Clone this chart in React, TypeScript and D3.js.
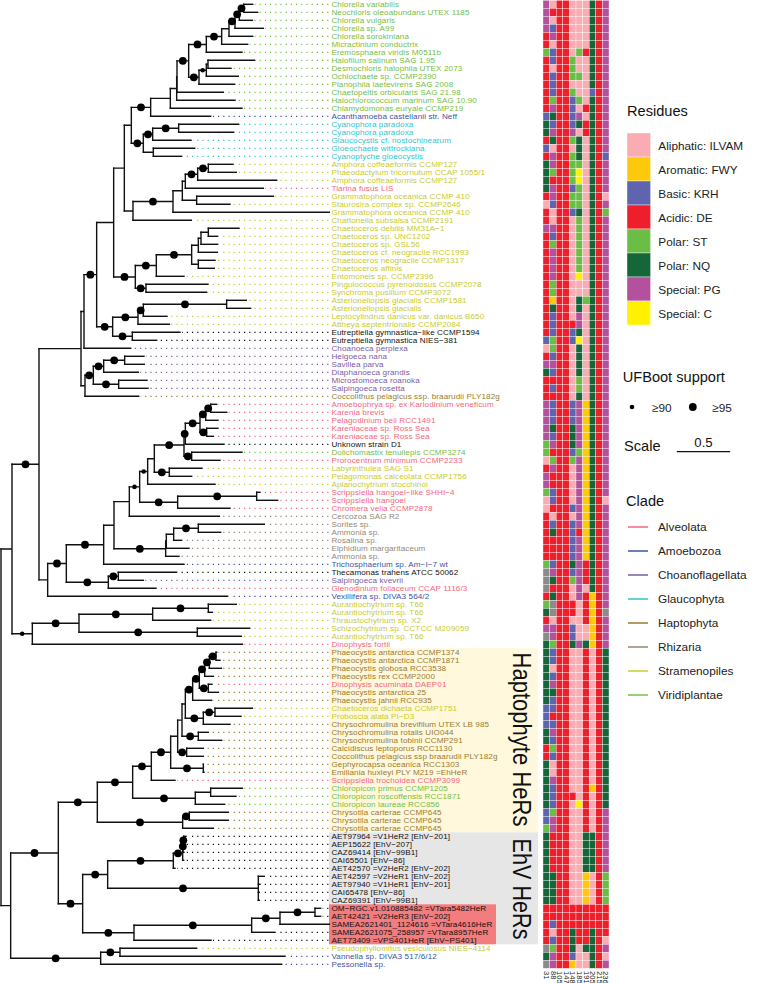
import React from "react";
import * as d3 from "d3";

const tipLabels = [
"Chlorella variabilis","Neochloris oleoabundans UTEX 1185","Chlorella vulgaris","Chlorella sp. A99","Chlorella sorokiniana","Micractinium conductrix","Eremosphaera viridis M0511b","Halofilum salinum SAG 1.95","Desmochloris halophila UTEX 2073","Ochlochaete sp. CCMP2390","Planophila laetevirens SAG 2008","Chaetopeltis orbicularis SAG 21.98","Halochlorococcum marinum SAG 10.90","Chlamydomonas euryale CCMP219","Acanthamoeba castellanii str. Neff","Cyanophora paradoxa","Cyanophora paradoxa","Glaucocystis cf. nostochinearum","Gloeochaete wittrockiana","Cyanoptyche gloeocystis",
"Amphora coffeaeformis CCMP127","Phaeodactylum tricornutum CCAP 1055/1","Amphora coffeaeformis CCMP127","Tiarina fusus LIS","Grammatophora oceanica CCMP 410","Staurosira complex sp. CCMP2646","Grammatophora oceanica CCMP 410","Chattonella subsalsa CCMP2191","Chaetoceros debilis MM31A−1","Chaetoceros sp. UNC1202","Chaetoceros sp. GSL56","Chaetoceros cf. neogracile RCC1993","Chaetoceros neogracile CCMP1317","Chaetoceros affinis","Entomoneis sp. CCMP2396","Pinguiococcus pyrenoidosus CCMP2078","Synchroma pusillum CCMP3072","Asterionellopsis glacialis CCMP1581","Asterionellopsis glacialis","Leptocylindrus danicus var. danicus B650",
"Attheya septentrionalis CCMP2084","Eutreptiella gymnastica−like CCMP1594","Eutreptiella gymnastica NIES−381","Choanoeca perplexa","Helgoeca nana","Savillea parva","Diaphanoeca grandis","Microstomoeca roanoka","Salpingoeca rosetta","Coccolithus pelagicus ssp. braarudii PLY182g","Amoebophrya sp. ex Karlodinium veneficum","Karenia brevis","Pelagodinium beii RCC1491","Kareniaceae sp. Ross Sea","Kareniaceae sp. Ross Sea","Unknown strain D1","Dolichomastix tenuilepis CCMP3274","Prorocentrum minimum CCMP2233","Labyrinthulea SAG S1","Pelagomonas calceolata CCMP1756",
"Aplanochytrium stocchinoi","Scrippsiella hangoei−like SHHI−4","Scrippsiella hangoei","Chromera velia CCMP2878","Cercozoa SAG R2","Sorites sp.","Ammonia sp.","Rosalina sp.","Elphidium margaritaceum","Ammonia sp.","Trichosphaerium sp. Am−I−7 wt","Thecamonas trahens ATCC 50062","Salpingoeca kvevrii","Glenodinium foliaceum CCAP 1116/3","Vexillifera sp. DIVA3 564/2","Aurantiochytrium sp. T66","Aurantiochytrium sp. T66","Thraustochytrium sp. X2","Schizochytrium sp. CCTCC M209059","Aurantiochytrium sp. T66",
"Dinophysis fortii","Phaeocystis antarctica CCMP1374","Phaeocystis antarctica CCMP1871","Phaeocystis globosa RCC3538","Phaeocystis rex CCMP2000","Dinophysis acuminata DAEP01","Phaeocystis antarctica 25","Phaeocystis jahnii RCC935","Chaetoceros dichaeta CCMP1751","Proboscia alata PI−D3","Chrysochromulina brevifilum UTEX LB 985","Chrysochromulina rotalis UIO044","Chrysochromulina tobinii CCMP291","Calcidiscus leptoporus RCC1130","Coccolithus pelagicus ssp braarudii PLY182g","Gephyrocapsa oceanica RCC1303","Emiliania huxleyi PLY M219 =EhHeR","Scrippsiella trochoidea CCMP3099","Chloropicon primus CCMP1205","Chloropicon roscoffensis RCC1871",
"Chloropicon laureae RCC856","Chrysotila carterae CCMP645","Chrysotila carterae CCMP645","Chrysotila carterae CCMP645","AET97964 =V1HeR2 [EhV−201]","AEP15622 [EhV−207]","CAZ69414 [EhV−99B1]","CAI65501 [EhV−86]","AET42570 =V2HeR2 [EhV−202]","AET42597 =V2HeR1 [EhV−202]","AET97940 =V1HeR1 [EhV−201]","CAI65478 [EhV−86]","CAZ69391 [EhV−99B1]","OM−RGC.v1.010885482 =VTara5482HeR","AET42421 =V2HeR3 [EhV−202]","SAMEA2621401_1124616 =VTara4616HeR","SAMEA2621075_258957 =VTara8957HeR","AET73409 =VPS401HeR [EhV−PS401]","Pseudophyllomitus vesiculosus NIES−4114","Vannella sp. DIVA3 517/6/12","Pessonella sp.",
];

// clade code of each tip, in tip order (V Viridiplantae, M Amoebozoa, Y Glaucophyta, T Stramenopiles, L Alveolata, K other, C Choanoflagellata, H Haptophyta, R Rhizaria)
const tipClades = "VVVVVVVVVVVVVVMYYYYYTTTLTTTTTTTTTTTTTTTTTKKCCCCCCHLLLLLKVLTTTLLLRRRRRRMKCLMTTTTTLHHHHLHHTTHHHHHHHLVVVHHHKKKKKKKKKKKKKKTMM";

// node = [depth, support (0 none, 1 >=90, 2 >=95), ...children]; a plain number is a tip's depth
type N = number | any[];
const chlorellaCore: N = [619,2,[665,2,[687,0,[705,2,[718,2,[731,2,758,773],757],790],758],743],726];
const chlorophyta: N = [511,0,[530,0,[531,0,[566,2,chlorellaCore,[597,2,[619,1,[624,0,764,693],715],704]],670],705],726];
const glauco: N = [430,2,[458,2,[536,2,716,701],573],[460,0,584,545]];
const diatomsA: N = [399,0,[519,2,[547,0,[556,0,[593,2,[625,2,699,709],830],790],[590,0,820,690]],988],574];
const diatomsB: N = [406,2,[469,2,[575,2,[595,0,[603,0,[625,0,717,653],653],652],[595,0,645,643]],552],[438,2,624,620]];
const greenUpper: N = [373,0,[394,0,[452,2,chlorophyta,632],glauco],diatomsA];
const euk: N = [290,2,[341,0,greenUpper,diatomsB],[338,2,[414,2,[430,2,[680,2,739,752],501],508],[397,2,540,470]]];
const choano: N = [255,0,[280,2,[311,2,[374,2,432,433],415],[356,2,441,444]],416];
const alveo: N = [388,0,[419,1,[443,1,[463,0,[552,2,[556,2,[600,2,[617,2,[632,2,650,680],654],[620,2,654,640]],672],[575,2,726,660]],[508,2,606,575]],645],[533,2,[770,2,780,833],690]],658];
const rhiz: N = [497,2,[499,0,[521,0,[595,2,793,662],545],567],537];
const lower: N = [143,0,[199,2,[311,2,[342,0,alveo,rhiz],552],[325,2,[355,2,530,430],468]],683];
const thraust: N = [97,1,[237,2,[458,2,[625,2,709,637],632],[592,2,749,724]],727];
const phaeo: N = [556,0,[578,2,[598,2,[614,2,[628,2,[648,2,650,660],664],640],[625,2,636,655]],635],[610,2,[645,2,757,723],690]];
const hapto: N = [398,2,[454,2,[512,2,[533,0,[546,0,phaeo,[595,2,625,665]],[560,2,610,610]],[610,2,610,612]],525],[586,2,[632,0,727,708],674]];
const ehvA: N = [323,2,[520,2,[548,2,[549,2,[551,2,558,552],552],551],525],[775,2,793,780,778,778]];
const ehvB: N = [402,2,[755,2,[840,2,[945,2,962,962],988],825],633];
const treeData: N = [3,0,
  [36,0,[117,2,[243,0,[252,0,euk,392],choano],lower],thraust],
  [32,0,[175,2,[292,2,hapto,[548,2,[568,2,685,685],640]],[248,2,ehvA,ehvB]],[302,2,[360,2,590,855],845]],
];

const siteLabels = ["31","88","105","147","148","185","191","205","215","236"];
// one string per tip; one letter per site
const residues = [
"GADDAAANDG","GDDDAAANDG","GADDAAANDG","GBDDAAANDG","DGDDAAANDG","DADDAAANDG","SBDDASDNDG","DBDDSAANDG","DADDSAANDG","DBDDSSANDG",
"DBDDAAANDG","DBDDSAABDG","DSDDBSANDG","DGDDBADNDG","BNDDBGANDG","NBDDBNDNDG","NGDDGADNDG","DNDDSNANDG","BADDANANDG","DGDDSNANDB",
"NGDDSSANDG","NSDDSCANDG","NDDDSCANDG","NGDDBSANDG","DGDDSSANDA","ABDDSSANDG","DADDBNANDS","DADDASANDG","GGDDASANDG","DBDDASANDG",
"DSDDASANDG","DGDDASANDG","DGDDASANDG","DGDDASANDG","DGDDACANDG","DSDDAAANDG","DSDDAAANDG","DWDDANSNDG","DNDDANANDG","DBDDAGANDG",
"DBDDDGANDG","DBDDBNANDG","BSDDBCANDG","ASDDANANDG","DBDDANANDG","GGDDANANDG","NBDDANANDG","DDDDASANDG","DBDDASANDG","DDDDANANDG",
"GBDDBGWNDG","GBDDBGWNDG","GBDDBGWNDG","GNDDNGWNDG","GBDDNGWNDG","SGDDNGWNDG","SDDDBSWNDG","ASDDSGWNDG","DGDDAGWNDG","GDDDAGWNDG",
"GDDDAGWNDG","SBDDAGWNDG","ABDDAGWNDA","ADDDBGWNDG","DADDAGWNDG","DBDDBGWNDG","DNDDBDWNDG","DDDDBGWNDG","DDDDBGWNDG","DDDDBGWNDG",
"SBDDNGDNDG","XGDDBGDNDG","XNDDSGDNDG","XDDDAGANDG","DNDDAGDWDG","SXDDDADWDG","NXDDDADWDX","DADDAADWDG","GGDDBAAWDG","XGDDBAAWDG",
"NSDDNGNWDG","NBDDAADADN","NBDDAADADN","NADDAADADN","NBDDAADADN","NGDDAADADN","NNDDAADADN","NBDDAADADN","BBDDAADADN","BDDDAADADN",
"BBDDAADADN","NGDDAADADN","NBDDAADADN","DSDDAADADN","DBDDAADADN","NADDAADADN","NADDAADADN","NGDDAADADN","NBDDAADWDN","NBDDDADADN",
"NBDDACDADN","BSDDAADADG","BGDDAADADG","SGDDAADADG","NDDDAANNDG","NDDDAANNDG","NDDDAANNDG","NDDDAANNDG","NDDDAANNDG","NNDDAAWADS",
"NNDDAAWADS","NNDDAAWADS","NNDDAAWADS","DDDDDDDDDD","DDDDDDDDDD","DBDDDDDDDD","DADDNDDNDD","DBDDNDDNDA","XSDDNANNDG","NGDDBAANDA","XGDDWAANDG",
];

const residueColor: Record<string,string> = { A:"#f9acb2", W:"#ffc90b", B:"#5e65ae", D:"#ee1f2b", S:"#6abd45", N:"#15673a", G:"#b4519e", C:"#fff200", X:"#8b8b8b" };
const residueKeys = ["A","W","B","D","S","N","G","C"];
const residueNames = ["Aliphatic: ILVAM","Aromatic: FWY","Basic: KRH","Acidic: DE","Polar: ST","Polar: NQ","Special: PG","Special: C"];

const cladeColor: Record<string,string> = { L:"#f4677c", M:"#3b54a4", C:"#7a5aa8", Y:"#30c5cd", H:"#9c7b2e", R:"#978775", T:"#c8cb2e", V:"#73c045", K:"#111111" };
const cladeKeys = ["L","M","C","Y","H","R","T","V"];
const cladeNames = ["Alveolata","Amoebozoa","Choanoflagellata","Glaucophyta","Haptophyta","Rhizaria","Stramenopiles","Viridiplantae"];

const supportRadius = [0, 2.3, 3.9];
const FONT = "'Liberation Sans', Arial, sans-serif";

const xScale = d3.scaleLinear().domain([0, 1140]).range([0, 380]);
const yScale = d3.scaleLinear().domain([0, tipLabels.length - 1]).range([4.3, 964.3]);
const cellH = yScale(1) - yScale(0);
const siteScale = d3.scaleBand<string>().domain(siteLabels).range([543, 609]);

const toObj = (n: N): any =>
  typeof n === "number" ? { depth: n, support: 0 } : { depth: n[0], support: n[1], kids: n.slice(2).map(toObj) };

const root = d3.hierarchy<any>(toObj(treeData), (d) => d.kids);
const leaves = root.leaves();
leaves.forEach((l: any, i) => { l.row = i; });
root.eachAfter((n: any) => {
  n.py = n.children ? d3.mean(n.children as any[], (c: any) => c.py) : yScale(n.row);
  n.px = xScale(n.data.depth);
});

export default function App() {
  const nodes: any[] = root.descendants();
  const lastDot = 328.4;
  const resLegendY = d3.scaleLinear().domain([0, 7]).range([133, 301]);
  const cladeLegendY = d3.scaleLinear().domain([0, 7]).range([527, 695]);
  return (
    <svg width={759} height={983} style={{ position: "absolute", left: 0, top: 0, display: "block", fontFamily: FONT }}>
      <rect width={759} height={983} fill="#fff" />
      <rect x={329} y={yScale(81) - 4} width={209} height={yScale(103) - yScale(81) + 8} fill="#fff8dc" />
      <rect x={329} y={yScale(104) - 4} width={209} height={yScale(117) - yScale(104) + 8} fill="#e6e6e7" />
      <rect x={329} y={yScale(113) - 4} width={167} height={yScale(117) - yScale(113) + 8} fill="#f27c7e" />

      {leaves.map((l: any, i) => (
        l.px < lastDot - 2 ? (
          <line key={"d" + i} x1={lastDot} x2={l.px + 2} y1={l.py} y2={l.py}
            stroke={cladeColor[tipClades[i]]} strokeWidth={1.2} strokeDasharray="1.2 4" />
        ) : null
      ))}

      <g stroke="#111" strokeWidth={1.4} fill="none" strokeLinecap="square">
        {nodes.map((n, i) => {
          const p = d3.path();
          if (n.parent) { p.moveTo(n.parent.px, n.py); p.lineTo(n.px, n.py); }
          if (n.children) {
            const ys = n.children.map((c: any) => c.py);
            p.moveTo(n.px, d3.min(ys) as number); p.lineTo(n.px, d3.max(ys) as number);
          }
          return <path key={i} d={p.toString()} />;
        })}
      </g>
      {nodes.filter((n) => n.data.support > 0 && n.parent).map((n, i) => (
        <circle key={i} cx={(n.parent.px + n.px) / 2} cy={n.py} r={supportRadius[n.data.support]} fill="#000" />
      ))}

      <g fontSize={8.1} letterSpacing={0.1}>
        {tipLabels.map((t, i) => (
          <text key={i} x={331.4} y={yScale(i) + 2.9} fill={cladeColor[tipClades[i]]}>{t}</text>
        ))}
      </g>

      <text transform={`translate(512.5,652.5) rotate(90)`} fontSize={25} fill="#111" textLength={174} lengthAdjust="spacingAndGlyphs">Haptophyte HeRs</text>
      <text transform={`translate(512.5,838.5) rotate(90)`} fontSize={25} fill="#111" textLength={101} lengthAdjust="spacingAndGlyphs">EhV HeRs</text>

      <g>
        {residues.flatMap((r, i) => r.split("").map((c, j) => (
          <rect key={i + "-" + j} x={siteScale(siteLabels[j])} y={yScale(i) - cellH / 2}
            width={siteScale.bandwidth()} height={cellH} fill={residueColor[c]} stroke="#fff" strokeWidth={0.35} />
        )))}
      </g>
      {siteLabels.map((s) => (
        <text key={s} transform={`translate(${(siteScale(s) as number) + 0.9},971) rotate(90)`} fontSize={7.6} fill="#222">{s}</text>
      ))}

      <text x={627} y={116} fontSize={14.6} fill="#111">Residues</text>
      {residueKeys.map((k, i) => (
        <g key={k}>
          <rect x={627} y={resLegendY(i)} width={23.6} height={24} fill={residueColor[k]} stroke="#fff" strokeWidth={0.4} />
          <text x={658.3} y={resLegendY(i) + 16.5} fontSize={11.8} fill="#222">{residueNames[i]}</text>
        </g>
      ))}

      <text x={622.7} y={382} fontSize={14.6} fill="#111">UFBoot support</text>
      <circle cx={632} cy={407} r={supportRadius[1]} fill="#000" />
      <text x={652} y={411.5} fontSize={11.8} fill="#222">≥90</text>
      <circle cx={692.8} cy={407} r={supportRadius[2]} fill="#000" />
      <text x={712.3} y={411.5} fontSize={11.8} fill="#222">≥95</text>

      <text x={624} y={451} fontSize={14.6} fill="#111">Scale</text>
      <line x1={676.8} x2={676.8 + xScale(160)} y1={451.7} y2={451.7} stroke="#111" strokeWidth={1.2} />
      <text x={703.5} y={446.5} fontSize={13.2} fill="#111" textAnchor="middle">0.5</text>

      <text x={626} y={506} fontSize={14.6} fill="#111">Clade</text>
      {cladeKeys.map((k, i) => (
        <g key={k}>
          <line x1={628} x2={648} y1={cladeLegendY(i)} y2={cladeLegendY(i)} stroke={cladeColor[k]} strokeWidth={1.5} />
          <text x={658} y={cladeLegendY(i) + 4} fontSize={11.8} fill="#222">{cladeNames[i]}</text>
        </g>
      ))}
    </svg>
  );
}
